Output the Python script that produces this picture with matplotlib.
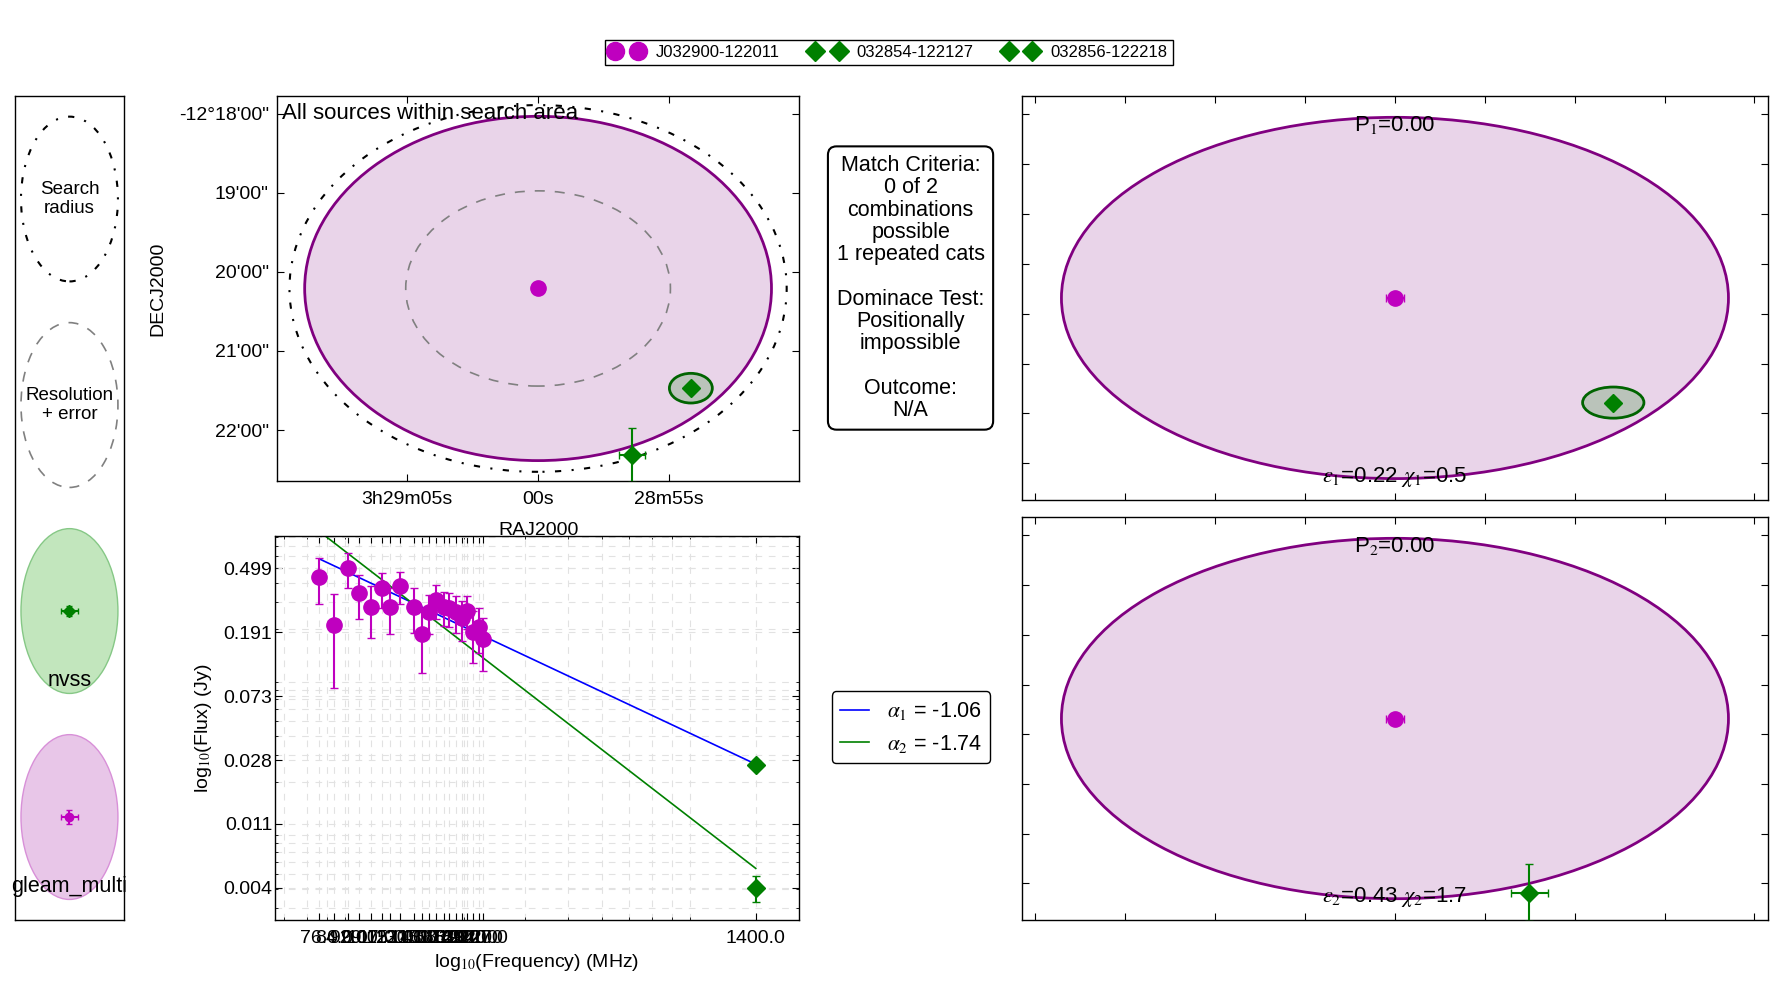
import matplotlib
matplotlib.use('Agg')
import matplotlib.pyplot as plt
import numpy as np
from matplotlib.patches import Ellipse
from matplotlib.lines import Line2D
from matplotlib.ticker import NullFormatter, FixedLocator

plt.rcParams['font.family'] = ['Liberation Sans', 'DejaVu Sans']
plt.rcParams['mathtext.fontset'] = 'stix'
plt.rcParams['xtick.direction'] = 'in'
plt.rcParams['ytick.direction'] = 'in'
plt.rcParams['xtick.top'] = True
plt.rcParams['ytick.right'] = True
plt.rcParams['xtick.major.size'] = 5
plt.rcParams['ytick.major.size'] = 5
plt.rcParams['xtick.minor.size'] = 2.5
plt.rcParams['ytick.minor.size'] = 2.5
plt.rcParams['xtick.major.pad'] = 7
plt.rcParams['ytick.major.pad'] = 6
plt.rcParams['axes.linewidth'] = 1.0

# sources: gleam first, then the two nvss candidates
names = ['J032900-122011', '032854-122127', '032856-122218']
ra = [52.25, 52.22571, 52.23504]           # deg
dec = [-12.336833, -12.357833, -12.371861]  # deg
ra_err = [3.5, 2.0, 7.2]     # arcsec on sky
dec_err = [3.0, 2.0, 20.5]   # arcsec
search_radius = 139.0        # arcsec
resolution = 74.0            # arcsec
gleam_size = [261.0, 261.0]  # arcsec, major / minor
nvss_size = [24.0, 22.5]     # arcsec, major / minor

gleam_freq = [76, 84, 92, 99, 107, 115, 122, 130, 143, 151, 158, 166, 174, 181, 189, 197, 204, 212, 220, 227]
gleam_flux = [0.440, 0.212, 0.499, 0.343, 0.280, 0.369, 0.280, 0.382, 0.280, 0.186,
              0.260, 0.310, 0.280, 0.275, 0.260, 0.236, 0.264, 0.192, 0.207, 0.172]
gleam_flux_err = [0.146, 0.129, 0.126, 0.111, 0.104, 0.094, 0.093, 0.088, 0.090, 0.083,
                  0.074, 0.078, 0.070, 0.070, 0.070, 0.070, 0.065, 0.072, 0.067, 0.065]
nvss_freq = 1400.0
nvss_flux = [0.0259, 0.00408]
nvss_flux_err = [0.0010, 0.0008]
alphas = [-1.06, -1.74]
fit_s1400 = [0.0262, 0.00546]
fit_colors = ['b', 'g']

prob = [0.00, 0.00]
eps = [0.22, 0.43]
chi = [0.5, 1.7]

ra_ticks = [52.270833, 52.25, 52.229167]
ra_ticklabels = ['3h29m05s', '00s', '28m55s']
dec_ticks = [-12.3, -12.316667, -12.333333, -12.35, -12.366667]
dec_ticklabels = ['-12\u00b018\'00"', '19\'00"', '20\'00"', '21\'00"', '22\'00"']

match_text = ('Match Criteria:\n0 of 2\ncombinations\npossible\n1 repeated cats\n\n'
              'Dominace Test:\nPositionally\nimpossible\n\nOutcome:\nN/A')

cosd = np.cos(np.radians(dec[0]))
half = 1.05 * search_radius  # arcsec


def ra_deg(arcsec):
    return arcsec / 3600.0 / cosd


def dec_deg(arcsec):
    return arcsec / 3600.0


def sky_base(ax):
    ax.add_patch(Ellipse((ra[0], dec[0]), ra_deg(gleam_size[0]), dec_deg(gleam_size[1]),
                         fc=(0.5, 0, 0.5, 0.17), ec='purple', lw=2, zorder=1))
    ax.errorbar(ra[0], dec[0], xerr=ra_deg(ra_err[0]), yerr=dec_deg(dec_err[0]), fmt='o',
                color='m', ms=11, capsize=3, zorder=5)
    ax.set_xlim(ra[0] + ra_deg(half), ra[0] - ra_deg(half))
    ax.set_ylim(dec[0] - dec_deg(half), dec[0] + dec_deg(half))


def add_nvss(ax, i):
    if i == 1:
        ax.add_patch(Ellipse((ra[i], dec[i]), ra_deg(nvss_size[0]), dec_deg(nvss_size[1]),
                             fc=(0, 0.5, 0, 0.2), ec='darkgreen', lw=2, zorder=3))
    ax.errorbar(ra[i], dec[i], xerr=ra_deg(ra_err[i]), yerr=dec_deg(dec_err[i]), fmt='D',
                color='g', ms=9.5, capsize=3, zorder=6)


fig = plt.figure(figsize=(17.77, 9.84), dpi=100)

# key panel on the left
ax0 = fig.add_axes([0.00844, 0.065, 0.0613, 0.8374])
ax0.set_xlim(0, 1)
ax0.set_ylim(0, 1)
ax0.set_xticks([])
ax0.set_yticks([])
ax0.add_patch(Ellipse((0.5, 0.875), 0.89, 0.2, fill=False, ec='k', lw=1.5, ls=(0, (3, 5, 1, 5))))
ax0.text(0.5, 0.875, 'Search\nradius', ha='center', va='center', fontsize=13.5)
ax0.add_patch(Ellipse((0.5, 0.625), 0.89, 0.2, fill=False, ec='grey', lw=1.2, ls=(0, (6, 6))))
ax0.text(0.5, 0.625, 'Resolution\n+ error', ha='center', va='center', fontsize=13.5)
ax0.add_patch(Ellipse((0.5, 0.375), 0.89, 0.2, fc='#c2e6bd', ec='#86c886', lw=1))
ax0.errorbar(0.5, 0.375, xerr=0.08, yerr=0.006, fmt='D', color='g', ms=6, capsize=2.5)
ax0.text(0.5, 0.291, 'nvss', ha='center', va='center', fontsize=15.5)
ax0.add_patch(Ellipse((0.5, 0.125), 0.89, 0.2, fc='#e8c6e8', ec='#d890d8', lw=1))
ax0.errorbar(0.5, 0.125, xerr=0.08, yerr=0.008, fmt='o', color='m', ms=6, capsize=2.5)
ax0.text(0.5, 0.041, 'gleam_multi', ha='center', va='center', fontsize=15.5)

# all sources in the search area
ax1 = fig.add_axes([0.1559, 0.5112, 0.2938, 0.3913])
ax1.add_patch(Ellipse((ra[0], dec[0]), ra_deg(2 * search_radius), dec_deg(2 * search_radius),
                      fill=False, ec='k', lw=1.5, ls=(0, (3, 5, 1, 5)), zorder=0))
sky_base(ax1)
ax1.add_patch(Ellipse((ra[0], dec[0]), ra_deg(2 * resolution), dec_deg(2 * resolution),
                      fill=False, ec='grey', lw=1.2, ls=(0, (6, 6)), zorder=2))
add_nvss(ax1, 1)
add_nvss(ax1, 2)
ax1.set_xticks(ra_ticks)
ax1.set_xticklabels(ra_ticklabels, fontsize=14)
ax1.set_yticks(dec_ticks)
ax1.set_yticklabels(dec_ticklabels, fontsize=14)
ax1.set_xlabel('RAJ2000', fontsize=14, labelpad=10.5)
ax1.set_ylabel('DECJ2000', fontsize=14, labelpad=9)
ax1.text(0.01, 0.981, 'All sources within search area', transform=ax1.transAxes,
         ha='left', va='top', fontsize=16, zorder=10)

# spectrum
ax2 = fig.add_axes([0.1548, 0.065, 0.2949, 0.3902])
ax2.set_xscale('log')
ax2.set_yscale('log')
ax2.grid(True, which='both', ls=(0, (6, 6)), color='#e2e2e2', lw=0.8)
ax2.set_axisbelow(True)
fit_lines = []
for k in range(2):
    f = np.array([gleam_freq[0], nvss_freq])
    s = fit_s1400[k] * (f / nvss_freq) ** alphas[k]
    line, = ax2.plot(f, s, color=fit_colors[k], lw=1.2,
                     label=r'$\alpha_%d$ = %.2f' % (k + 1, alphas[k]))
    fit_lines.append(line)
ax2.errorbar(gleam_freq, gleam_flux, yerr=gleam_flux_err, fmt='o', color='m', ms=11,
             capsize=3, zorder=5)
ax2.errorbar([nvss_freq, nvss_freq], nvss_flux, yerr=nvss_flux_err, fmt='D', color='g',
             ms=9.5, capsize=3, zorder=5)
all_flux = gleam_flux + nvss_flux
yt = np.logspace(np.log10(min(all_flux)), np.log10(max(all_flux)), 6)
ax2.set_xlim(56.5, 1870)
ax2.set_ylim(min(all_flux) / 1.625, max(all_flux) * 1.625)
xt = gleam_freq + [nvss_freq]
ax2.xaxis.set_major_locator(FixedLocator(xt))
ax2.set_xticklabels(['%.1f' % v for v in xt], fontsize=14)
ax2.yaxis.set_major_locator(FixedLocator(yt))
ax2.set_yticklabels(['%.3f' % v for v in yt], fontsize=14)
ax2.tick_params(axis='y', which='major', pad=2)
ax2.xaxis.set_minor_formatter(NullFormatter())
ax2.yaxis.set_minor_formatter(NullFormatter())
ax2.set_xlabel(r'log$_{10}$(Frequency) (MHz)', fontsize=14)
ax2.set_ylabel(r'log$_{10}$(Flux) (Jy)', fontsize=14, labelpad=7)

# match text and fit legend
fig.text(0.5124, 0.7073, match_text, ha='center', va='center', fontsize=15.5,
         multialignment='center', linespacing=1.08,
         bbox=dict(boxstyle='round,pad=0.4', fc='white', ec='k', lw=1.5))
fig.legend(handles=fit_lines, loc='center', bbox_to_anchor=(0.5127, 0.2607), fontsize=15.5,
           fancybox=True, edgecolor='k', framealpha=1, handlelength=1.35)

# combinations
for k, rect in enumerate([[0.5751, 0.4919, 0.4198, 0.4106], [0.5751, 0.065, 0.4198, 0.4096]]):
    ax = fig.add_axes(rect)
    sky_base(ax)
    add_nvss(ax, k + 1)
    ax.xaxis.set_major_locator(FixedLocator(np.arange(52.20, 52.30, 0.01)))
    ax.yaxis.set_major_locator(FixedLocator(np.arange(-12.40, -12.27, 0.01)))
    ax.set_xticklabels([])
    ax.set_yticklabels([])
    ax.set_xlim(ra[0] + ra_deg(half), ra[0] - ra_deg(half))
    ax.set_ylim(dec[0] - dec_deg(half), dec[0] + dec_deg(half))
    ax.text(0.5, 0.929, r'P$_%d$=%.2f' % (k + 1, prob[k]), transform=ax.transAxes,
            ha='center', va='center', fontsize=16, zorder=10)
    ax.text(0.5, 0.058, r'$\epsilon_%d$=%.2f $\chi_%d$=%.1f' % (k + 1, eps[k], k + 1, chi[k]),
            transform=ax.transAxes, ha='center', va='center', fontsize=16, zorder=10)

handles = [Line2D([], [], marker='o', color='m', ls='none', ms=13),
           Line2D([], [], marker='D', color='g', ls='none', ms=10.5),
           Line2D([], [], marker='D', color='g', ls='none', ms=10.5)]
fig.legend(handles, names, loc='upper center', bbox_to_anchor=(0.5, 0.968), ncol=3,
           numpoints=2, fontsize=12, fancybox=False, edgecolor='k', framealpha=1,
           borderpad=0.3, handletextpad=0.8, columnspacing=1.8)

fig.savefig('out.png', dpi=100)
